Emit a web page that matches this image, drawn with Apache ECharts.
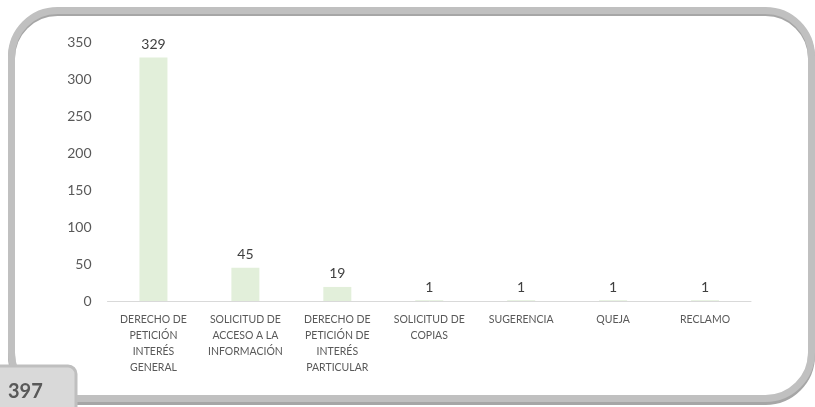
<!DOCTYPE html>
<html><head><meta charset="utf-8">
<script src="https://cdn.jsdelivr.net/npm/echarts@6/dist/echarts.min.js"></script>
<style>html,body{margin:0;padding:0;background:#fff}#c{width:815px;height:407px}</style>
</head><body><div id="c"></div>
<script>
const categories = ["DERECHO DE\nPETICIÓN\nINTERÉS\nGENERAL","SOLICITUD DE\nACCESO A LA\nINFORMACIÓN","DERECHO DE\nPETICIÓN DE\nINTERÉS\nPARTICULAR","SOLICITUD DE\nCOPIAS","SUGERENCIA","QUEJA","RECLAMO"];
const values = [329, 45, 19, 1, 1, 1, 1];
const totalLabel = "397";
const font = "Lato, 'Open Sans', sans-serif";
const chart = echarts.init(document.getElementById('c'));
chart.setOption({
  animation:false,
  grid:{left:107.5,right:64,top:42,bottom:106},
  xAxis:{type:'category',data:categories,
    axisLine:{lineStyle:{color:'#d9d9d9',width:1}},axisTick:{show:false},
    axisLabel:{interval:0,color:'#595959',fontSize:10.5,fontFamily:font,lineHeight:16,margin:11}},
  yAxis:{type:'value',min:0,max:350,interval:50,splitLine:{show:false},axisLine:{show:false},axisTick:{show:false},
    axisLabel:{color:'#595959',fontSize:14,fontFamily:font,margin:16}},
  series:[{type:'bar',data:values,barWidth:28,itemStyle:{color:'#e2efda'},
    label:{show:true,position:'top',distance:6,color:'#404040',fontSize:14,fontFamily:font}}],
  graphic:[
    {type:'rect',z:-1,shape:{x:11.5,y:12.5,width:800,height:389,r:46},style:{fill:'none',stroke:'#a6a6a6',lineWidth:7}},
    {type:'rect',z:0,shape:{x:11.5,y:10.5,width:800,height:388,r:46},style:{fill:'none',stroke:'#c0c0c0',lineWidth:7}},
    {type:'rect',z:10,shape:{x:-5,y:366,width:81,height:50,r:[0,8,0,0]},style:{fill:'#d9d9d9',stroke:'#bfbfbf',lineWidth:3}},
    {type:'text',z:11,left:8,top:382,style:{text:totalLabel,fill:'#595959',font:"bold 20px "+font}}
  ]
});
</script></body></html>
